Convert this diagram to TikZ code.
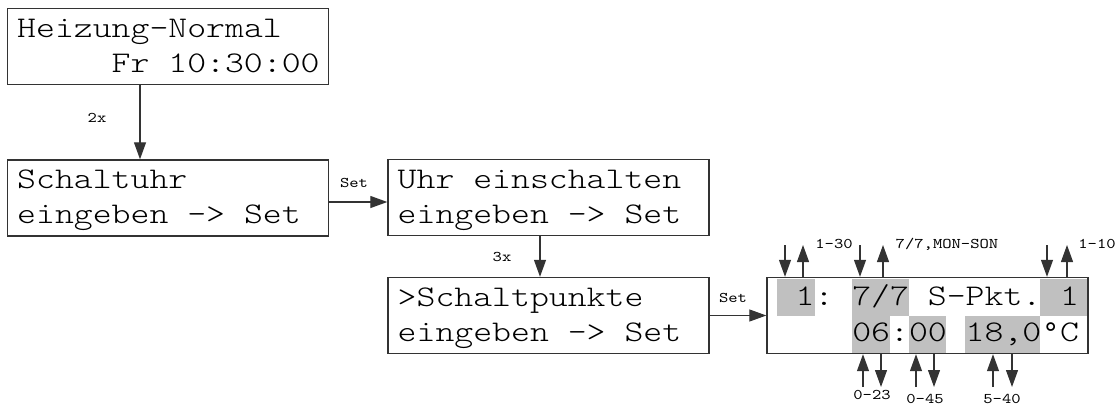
\documentclass[tikz,border=0pt]{standalone}
\usepackage{fontspec}
\usepackage{tikz}
\usetikzlibrary{arrows.meta}
\newfontfamily\lcdmono{lmmonolt10-regular.otf}[FakeStretch=1.2]
\newfontfamily\tagmono{lmmono10-regular.otf}[FakeStretch=1.2]
\newfontfamily\degmono{DejaVu Sans Mono}
\newcommand\lcdfont{\lcdmono\fontsize{15}{18}\selectfont\frenchspacing}
\newcommand\tagfont{\tagmono\fontsize{7.4}{9}\selectfont\frenchspacing}
\newcommand\degsign{\makebox[9.45pt][c]{\degmono\fontsize{14}{14}\selectfont\raisebox{-0.8pt}{°}}}
\definecolor{lcdgray}{RGB}{192, 192, 192}

\begin{document}
\begin{tikzpicture}[x=0.5pt, y=-0.5pt,
	lcd/.style={draw=black!80, line width=0.7pt, minimum width=160.5pt, minimum height=38pt, inner sep=0pt},
	row/.style={font=\lcdfont, anchor=base west, inner sep=0pt},
	tag/.style={font=\tagfont, inner sep=0pt},
	flow/.style={draw=black!80, line width=0.6pt, -{Triangle[length=8.5pt,width=6pt]}}]
	\useasboundingbox (0,0) rectangle (1119,407);

	% gray fields of the display
	\fill[lcdgray] (777,279) rectangle (815,316);
	\fill[lcdgray] (852,279) rectangle (909,316);
	\fill[lcdgray] (1040,279) rectangle (1088,316);
	\fill[lcdgray] (852,316) rectangle (890,353);
	\fill[lcdgray] (909,316) rectangle (946,353);
	\fill[lcdgray] (965,316) rectangle (1040,353);

	\node[lcd] (b1) at (168,46.5) {};
	\node[lcd] (b2) at (168,198) {};
	\node[lcd] (b3) at (548.5,197.5) {};
	\node[lcd] (b4) at (548.5,315.5) {};
	\node[lcd] (disp) at (927.5,315.5) {};

	% Heizung
	\node[row] (b1a) at ([shift={(10,29.5)}]b1.north west) {Heizung-Normal};
	\node[row] (b1b) at ([shift={(10,64.5)}]b1.north west) {\phantom{00000}Fr 10:30:00};
	% Schaltuhr
	\node[row] (b2a) at ([shift={(10,29.5)}]b2.north west) {Schaltuhr};
	\node[row] (b2b) at ([shift={(10,64.5)}]b2.north west) {eingeben -> Set};
	% Uhr einschalten
	\node[row] (b3a) at ([shift={(10,29.5)}]b3.north west) {Uhr einschalten};
	\node[row] (b3b) at ([shift={(10,64.5)}]b3.north west) {eingeben -> Set};
	% Schaltpunkte
	\node[row] (b4a) at ([shift={(10,29.5)}]b4.north west) {>Schaltpunkte};
	\node[row] (b4b) at ([shift={(10,64.5)}]b4.north west) {eingeben -> Set};
	% Anzeige
	\node[row] (dispa) at ([shift={(10,28.5)}]disp.north west) {\phantom{0}1: 7/7 S-Pkt. 1};
	\node[row] (dispb) at ([shift={(10,65)}]disp.north west) {\phantom{0000}06:00 18,0\degsign C};

	% menu steps
	\draw[flow] ([xshift=-14pt]b1.south) -- ([xshift=-14pt]b1.south |- b2.north);
	\node[tag] (t2x) at (97,118) {2x};
	\draw[flow] ([yshift=-2pt]b2.east) -- ([yshift=-2pt]b2.east -| b3.west);
	\node[tag] (tset1) at (354,183) {Set};
	\draw[flow] ([xshift=-4.25pt]b3.south) -- ([xshift=-4.25pt]b3.south |- b4.north);
	\node[tag] (t3x) at (502,257) {3x};
	\draw[flow] (b4.east) -- (b4.east -| disp.west);
	\node[tag] (tset2) at (733,298) {Set};

	% keys above
	\coordinate (dn1) at (785,245); \coordinate (up1) at (803,245);
	\coordinate (dn2) at (860,245); \coordinate (up2) at (883,245);
	\coordinate (dn3) at (1047,245); \coordinate (up3) at (1067,245);
	\draw[flow] (dn1) -- (dn1 |- disp.north);
	\draw[flow] (up1 |- disp.north) -- (up1);
	\draw[flow] (dn2) -- (dn2 |- disp.north);
	\draw[flow] (up2 |- disp.north) -- (up2);
	\draw[flow] (dn3) -- (dn3 |- disp.north);
	\draw[flow] (up3 |- disp.north) -- (up3);
	\node[tag] (r130) at (834,244) {1-30};
	\node[tag] (rday) at (947,244) {7/7,MON-SON};
	\node[tag] (r110) at (1097,244) {1-10};
	% keys below
	\coordinate (up4) at (863,387); \coordinate (dn4) at (881,387);
	\coordinate (up5) at (916,387); \coordinate (dn5) at (934,387);
	\coordinate (up6) at (993,387); \coordinate (dn6) at (1012,387);
	\draw[flow] (up4) -- (up4 |- disp.south);
	\draw[flow] (dn4 |- disp.south) -- (dn4);
	\draw[flow] (up5) -- (up5 |- disp.south);
	\draw[flow] (dn5 |- disp.south) -- (dn5);
	\draw[flow] (up6) -- (up6 |- disp.south);
	\draw[flow] (dn6 |- disp.south) -- (dn6);
	\node[tag] (r023) at (872,395) {0-23};
	\node[tag] (r045) at (925,399) {0-45};
	\node[tag] (r540) at (1002,399) {5-40};
\end{tikzpicture}
\end{document}
